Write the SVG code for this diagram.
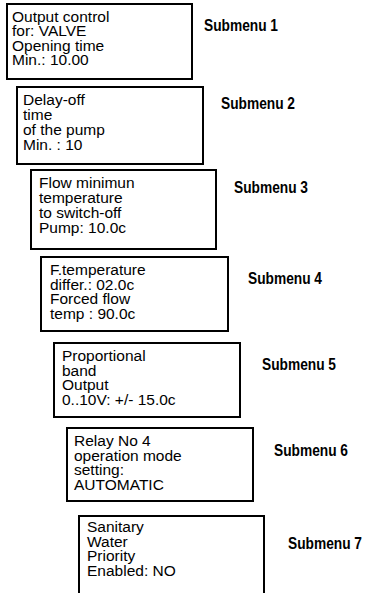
<svg xmlns="http://www.w3.org/2000/svg" width="389" height="593" viewBox="0 0 389 593">
<style>
.box{fill:#fff;stroke:#000;stroke-width:2}
.t{font-family:"Liberation Sans",Arial,sans-serif;font-size:15.5px;fill:#000}
.lbl{font-family:"Liberation Sans",Arial,sans-serif;font-size:16px;font-weight:bold;fill:#000}
</style>
<rect width="389" height="593" fill="#fff"/>
<g id="submenu1">
<rect class="box" x="7" y="4" width="185" height="75"/>
<text class="t" x="12" y="22"><tspan x="12">Output control</tspan><tspan x="12" dy="14.3">for: VALVE</tspan><tspan x="12" dy="14.3">Opening time</tspan><tspan x="12" dy="14.3">Min.: 10.00</tspan></text>
<text class="lbl" x="204" y="31" textLength="74" lengthAdjust="spacingAndGlyphs">Submenu 1</text>
</g>
<g id="submenu2">
<rect class="box" x="17" y="87" width="186" height="77"/>
<text class="t" x="23" y="105"><tspan x="23">Delay-off</tspan><tspan x="23" dy="15">time</tspan><tspan x="23" dy="15">of the pump</tspan><tspan x="23" dy="15">Min. : 10</tspan></text>
<text class="lbl" x="221" y="109" textLength="74" lengthAdjust="spacingAndGlyphs">Submenu 2</text>
</g>
<g id="submenu3">
<rect class="box" x="31" y="170" width="185" height="79"/>
<text class="t" x="39" y="188"><tspan x="39">Flow minimun</tspan><tspan x="39" dy="15">temperature</tspan><tspan x="39" dy="15">to switch-off</tspan><tspan x="39" dy="15">Pump: 10.0c</tspan></text>
<text class="lbl" x="234" y="193" textLength="74" lengthAdjust="spacingAndGlyphs">Submenu 3</text>
</g>
<g id="submenu4">
<rect class="box" x="41" y="257" width="187" height="74"/>
<text class="t" x="50" y="275"><tspan x="50">F.temperature</tspan><tspan x="50" dy="14.7">differ.: 02.0c</tspan><tspan x="50" dy="14.7">Forced flow</tspan><tspan x="50" dy="14.7">temp : 90.0c</tspan></text>
<text class="lbl" x="248" y="284" textLength="74" lengthAdjust="spacingAndGlyphs">Submenu 4</text>
</g>
<g id="submenu5">
<rect class="box" x="54" y="343" width="186" height="74"/>
<text class="t" x="62" y="361"><tspan x="62">Proportional</tspan><tspan x="62" dy="14.7">band</tspan><tspan x="62" dy="14.7">Output</tspan><tspan x="62" dy="14.7">0..10V: +/- 15.0c</tspan></text>
<text class="lbl" x="262" y="370" textLength="74" lengthAdjust="spacingAndGlyphs">Submenu 5</text>
</g>
<g id="submenu6">
<rect class="box" x="67" y="428" width="186" height="73"/>
<text class="t" x="74" y="446"><tspan x="74">Relay No 4</tspan><tspan x="74" dy="14.5">operation mode</tspan><tspan x="74" dy="14.5">setting:</tspan><tspan x="74" dy="14.5">AUTOMATIC</tspan></text>
<text class="lbl" x="274" y="456" textLength="74" lengthAdjust="spacingAndGlyphs">Submenu 6</text>
</g>
<g id="submenu7">
<rect class="box" x="79" y="516" width="185" height="90"/>
<text class="t" x="87" y="532"><tspan x="87">Sanitary</tspan><tspan x="87" dy="14.7">Water</tspan><tspan x="87" dy="14.7">Priority</tspan><tspan x="87" dy="14.7">Enabled: NO</tspan></text>
<text class="lbl" x="288" y="549" textLength="74" lengthAdjust="spacingAndGlyphs">Submenu 7</text>
</g>
<g id="connectors"></g>
</svg>
